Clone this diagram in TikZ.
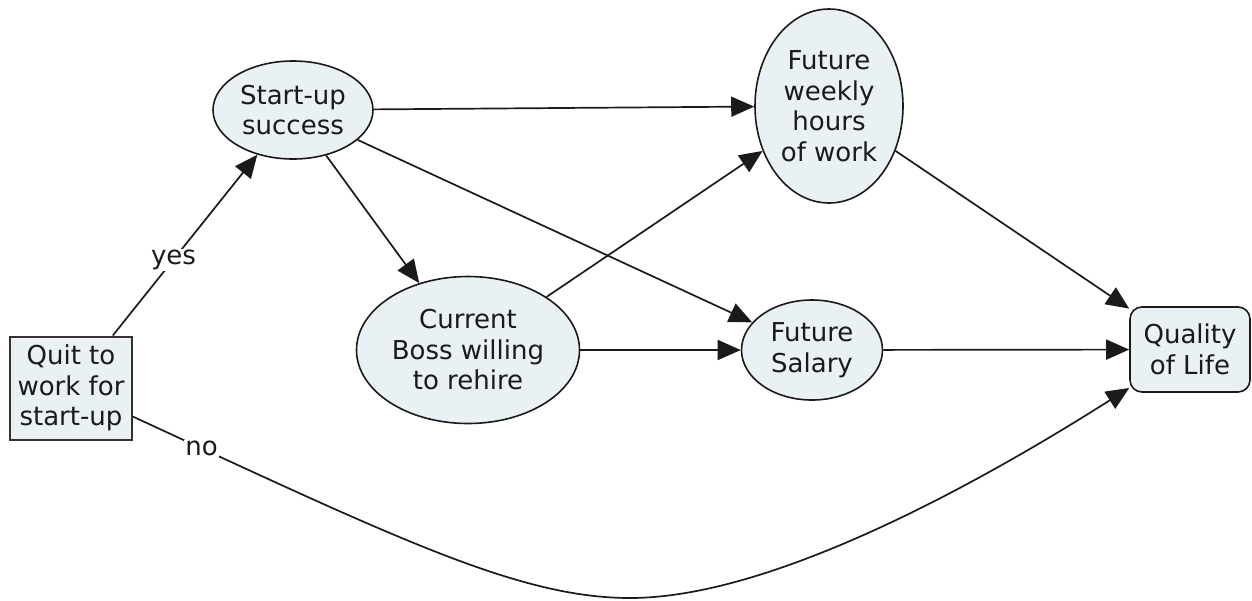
\documentclass[tikz,border=0pt]{standalone}
\usepackage{fontspec}
\setmainfont{DejaVu Sans}
\usetikzlibrary{shapes.geometric,arrows.meta}
\definecolor{nodefill}{HTML}{EAF1F4}
\definecolor{ink}{HTML}{1A1A1A}
\begin{document}
\begin{tikzpicture}[x=1pt,y=-1pt,
  every node/.style={font=\fontsize{26}{30.5}\selectfont, text=ink, align=center},
  chance/.style={ellipse, draw=ink, line width=1.6pt, fill=nodefill, inner sep=0pt},
  decision/.style={rectangle, draw=black!80, line width=2pt, fill=nodefill,
    inner sep=0pt, minimum width=122pt, minimum height=103pt},
  valuebox/.style={rectangle, rounded corners=12pt, draw=ink, line width=1.6pt,
    fill=nodefill, inner sep=0pt, minimum width=120pt, minimum height=85pt},
  link/.style={draw=ink, line width=1.7pt, -{Triangle[length=23pt,width=20pt]}},
  branch/.style={fill=white, inner sep=1pt}
]
\useasboundingbox (0,0) rectangle (1252,600);

% decision, chance and value nodes
\node[decision] (quit) at (71,388) {Quit to\\work for\\start-up};
\node[chance, minimum width=160pt, minimum height=98pt] (start) at (293,110) {Start-up\\success};
\node[chance, minimum width=148pt, minimum height=194pt] (weekly) at (829,106) {Future\\weekly\\hours\\of work};
\node[chance, minimum width=223pt, minimum height=147pt] (boss) at (468,350) {Current\\Boss willing\\to rehire};
\node[chance, minimum width=141pt, minimum height=100pt] (salary) at (812,350) {Future\\Salary};
\node[valuebox] (qol) at (1190,349.5) {Quality\\of Life};

% lowest point of the "no" branch
\coordinate (dip) at (630,598);

% influences
\draw[link] (quit) -- node[branch, pos=0.42] {yes} (start);
\draw[link] (start) -- (weekly);
\draw[link] (start) -- (boss);
\draw[link] (start) -- (salary);
\draw[link] (boss) -- (weekly);
\draw[link] (boss) -- (salary);
\draw[link] (weekly) -- (qol);
\draw[link] (salary) -- (qol);
\draw[link] (quit) .. controls (400,540) and (520,598) .. (dip)
  node[branch, pos=0.09] {no}
  .. controls (780,598) and (1000,470) .. (qol);
\end{tikzpicture}
\end{document}
